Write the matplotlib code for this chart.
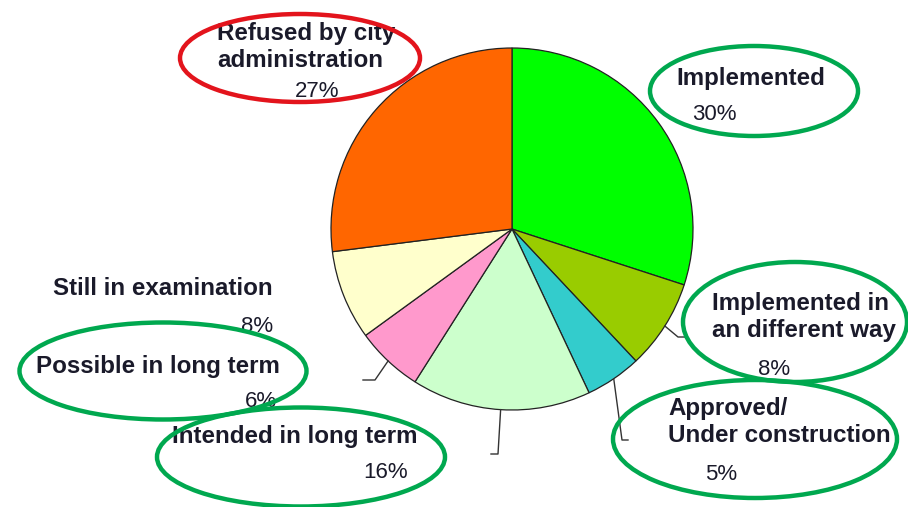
import matplotlib.pyplot as plt
import matplotlib as mpl
from matplotlib.patches import Ellipse
import numpy as np

mpl.rcParams['font.family'] = ['Liberation Sans', 'DejaVu Sans']

# ---------- Data ----------
labels = ['Implemented', 'Implemented in\nan different way', 'Approved/\nUnder construction',
          'Intended in long term', 'Possible in long term', 'Still in examination',
          'Refused by city\nadministration']
shares = [30, 8, 5, 16, 6, 8, 27]
colors = ['#00FF00', '#99CC00', '#33CCCC', '#CCFFCC', '#FF99CC', '#FFFFCC', '#FF6600']

W, H = 908, 507
def P(x, y):
    # pixel (top-left origin) -> data coords
    return x, H - y

# ---------- Layout (pixel positions) ----------
CENTER = (512, 229)
RADIUS = 181
# label: (x, baseline y, ha); pct: (x, baseline y, ha)
label_pos = [(676, 85, 'left'), (712, 310, 'left'), (668, 415, 'left'),
             (417, 443, 'right'), (280, 373, 'right'), (273, 295, 'right'),
             (217, 40, 'left')]
pct_pos = [(692, 120, 'left'), (758, 375, 'left'), (705, 480, 'left'),
           (408, 478, 'right'), (277, 407, 'right'), (273, 332, 'right'),
           (295, 97, 'left')]
LINE_GAP = 27
# leader elbows for slices 1..4
leaders = {1: [(678, 337), (687, 337)],
           2: [(622, 440), (628, 440)],
           3: [(498, 454), (491, 454)],
           4: [(375, 380), (363, 380)]}
# highlight ellipses: (cx, cy, w, h, color)
ellipses = [(300, 58, 240, 88, '#E3141C'),
            (754, 91, 208, 90, '#00A84F'),
            (795, 322, 224, 120, '#00A84F'),
            (755, 439, 284, 118, '#00A84F'),
            (163, 371, 287, 97, '#00A84F'),
            (301, 457, 288, 99, '#00A84F')]

# ---------- Figure ----------
fig = plt.figure(figsize=(W / 100, H / 100), dpi=100)
ax = fig.add_axes([0, 0, 1, 1])
cx, cy = P(*CENTER)
wedges, _ = ax.pie(shares, colors=colors, startangle=90, counterclock=False,
                   center=(cx, cy), radius=RADIUS,
                   wedgeprops=dict(edgecolor='#222222', linewidth=0.9))
ax.set_xlim(0, W)
ax.set_ylim(0, H)
ax.set_aspect('equal')
ax.axis('off')

# leader lines from the slice mid-angles
for i, pts in leaders.items():
    w = wedges[i]
    mid = np.deg2rad((w.theta1 + w.theta2) / 2)
    xs = [cx + RADIUS * np.cos(mid)] + [P(*p)[0] for p in pts]
    ys = [cy + RADIUS * np.sin(mid)] + [P(*p)[1] for p in pts]
    ax.plot(xs, ys, color='#333333', lw=1.0, zorder=2)

TXT = '#1a1a2a'
for lab, (x, y, ha) in zip(labels, label_pos):
    for k, line in enumerate(lab.split('\n')):
        ax.text(*P(x, y + k * LINE_GAP), line, ha=ha, va='baseline',
                fontsize=17.4, fontweight='bold', color=TXT, zorder=3)
for v, (x, y, ha) in zip(shares, pct_pos):
    ax.text(*P(x, y), f'{v}%', ha=ha, va='baseline',
            fontsize=16, color=TXT, zorder=3)

for ex, ey, ew, eh, ec in ellipses:
    ax.add_patch(Ellipse(P(ex, ey), ew, eh, fill=False, edgecolor=ec,
                         linewidth=3.2, zorder=5, clip_on=False))

fig.savefig('out.png', dpi=100, facecolor='white')
